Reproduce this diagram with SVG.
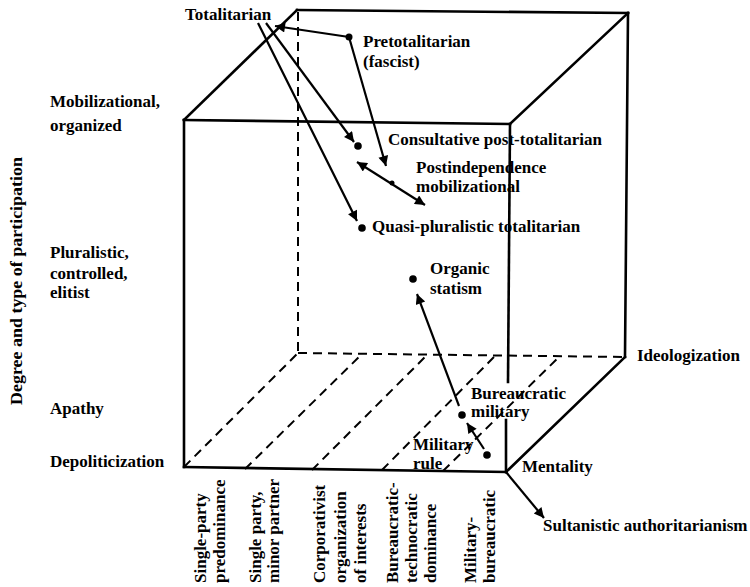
<svg xmlns="http://www.w3.org/2000/svg" width="750" height="587" viewBox="0 0 750 587">
<style>
  text { font-family: "Liberation Serif", "Times New Roman", serif; font-weight: bold; font-size: 17px; fill: #000; }
  .edge { stroke: #000; stroke-width: 2.6; fill: none; stroke-linecap: square; }
  .dash { stroke: #000; stroke-width: 2; fill: none; stroke-dasharray: 9 6; }
  .arr { stroke: #000; stroke-width: 2.2; fill: none; }
  .dot { fill: #000; }
</style>
<defs>
  <marker id="ah" viewBox="0 0 10 10" refX="10" refY="5" markerWidth="13" markerHeight="10" markerUnits="userSpaceOnUse" orient="auto-start-reverse">
    <path d="M0,0 L10,5 L0,10 Z" fill="#000"/>
  </marker>
</defs>
<rect width="750" height="587" fill="#fff"/>

<g id="cube">
  <line class="edge" x1="184" y1="120" x2="510" y2="124"/>
  <line class="edge" x1="184" y1="120" x2="184" y2="467"/>
  <line class="edge" x1="184" y1="467" x2="506" y2="472"/>
  <line class="edge" x1="510" y1="124" x2="508" y2="382"/>
  <line class="edge" x1="506" y1="420" x2="506" y2="472"/>
  <line class="edge" x1="297" y1="10" x2="628" y2="13"/>
  <line class="edge" x1="628" y1="13" x2="625" y2="357"/>
  <line class="edge" x1="184" y1="120" x2="297" y2="10"/>
  <line class="edge" x1="510" y1="124" x2="628" y2="13"/>
  <line class="edge" x1="506" y1="472" x2="625" y2="357"/>
  <line class="dash" x1="298" y1="12" x2="298" y2="353"/>
  <line class="dash" x1="298" y1="353" x2="625" y2="357"/>
  <line class="dash" x1="184" y1="467" x2="298" y2="353"/>
  <line class="dash" x1="245" y1="469" x2="362" y2="354"/>
  <line class="dash" x1="312" y1="470" x2="427" y2="355"/>
  <line class="dash" x1="382" y1="470" x2="495" y2="356"/>
  <line class="dash" x1="443" y1="471" x2="560" y2="356"/>
</g>

<g id="axis-labels">
  <text transform="translate(22,405) rotate(-90)" font-size="18" textLength="248" lengthAdjust="spacingAndGlyphs">Degree and type of participation</text>
  <text x="50" y="107">Mobilizational,</text>
  <text x="50" y="131">organized</text>
  <text x="50" y="258">Pluralistic,</text>
  <text x="50" y="279">controlled,</text>
  <text x="50" y="298">elitist</text>
  <text x="50" y="414">Apathy</text>
  <text x="50" y="467">Depoliticization</text>
  <text x="637" y="361">Ideologization</text>
  <text x="522" y="472">Mentality</text>
  <text transform="translate(206,583) rotate(-90)">Single-party</text>
  <text transform="translate(225,583) rotate(-90)">predominance</text>
  <text transform="translate(261,583) rotate(-90)">Single party,</text>
  <text transform="translate(279,583) rotate(-90)">minor partner</text>
  <text transform="translate(325,583) rotate(-90)">Corporativist</text>
  <text transform="translate(346,583) rotate(-90)">organization</text>
  <text transform="translate(366,583) rotate(-90)">of interests</text>
  <text transform="translate(398,583) rotate(-90)">Bureaucratic-</text>
  <text transform="translate(417,583) rotate(-90)">technocratic</text>
  <text transform="translate(436,583) rotate(-90)">dominance</text>
  <text transform="translate(476,583) rotate(-90)">Military-</text>
  <text transform="translate(495,583) rotate(-90)">bureaucratic</text>
</g>

<g id="node-totalitarian"><text x="185" y="20">Totalitarian</text></g>
<g id="node-pretotalitarian">
  <circle class="dot" cx="349" cy="37" r="3.5"/>
  <text x="363" y="47">Pretotalitarian</text>
  <text x="363" y="67">(fascist)</text>
</g>
<g id="node-consultative">
  <circle class="dot" cx="358" cy="146" r="3.8"/>
  <text x="388" y="145">Consultative post-totalitarian</text>
</g>
<g id="node-postindependence">
  <circle class="dot" cx="392" cy="183" r="2.5"/>
  <text x="416" y="173">Postindependence</text>
  <text x="416" y="192">mobilizational</text>
</g>
<g id="node-quasi">
  <circle class="dot" cx="362" cy="228" r="3.8"/>
  <text x="372" y="232">Quasi-pluralistic totalitarian</text>
</g>
<g id="node-organic">
  <circle class="dot" cx="413" cy="279" r="3.8"/>
  <text x="430" y="274">Organic</text>
  <text x="430" y="294">statism</text>
</g>
<g id="node-bureaucratic-military">
  <circle class="dot" cx="462" cy="415" r="3.8"/>
  <text x="471" y="399">Bureaucratic</text>
  <text x="471" y="417">military</text>
</g>
<g id="node-military-rule">
  <circle class="dot" cx="487" cy="455" r="3.8"/>
  <text x="413" y="450" font-size="16">Military</text>
  <text x="413" y="469" font-size="16">rule</text>
</g>
<g id="node-sultanistic"><text x="543" y="531">Sultanistic authoritarianism</text></g>

<g id="connectors">
  <line class="arr" x1="349" y1="37" x2="275" y2="26" marker-end="url(#ah)"/>
  <line class="arr" x1="266" y1="23" x2="354" y2="142" marker-end="url(#ah)"/>
  <line class="arr" x1="258" y1="23" x2="357" y2="221" marker-end="url(#ah)"/>
  <line class="arr" x1="349" y1="37" x2="386" y2="166" marker-end="url(#ah)"/>
  <line class="arr" x1="357" y1="162" x2="425" y2="205" marker-start="url(#ah)" marker-end="url(#ah)"/>
  <line class="arr" x1="459" y1="406" x2="417" y2="294" marker-end="url(#ah)"/>
  <line class="arr" x1="484" y1="449" x2="467" y2="423" marker-end="url(#ah)"/>
  <line class="arr" x1="506" y1="472" x2="544" y2="518" marker-end="url(#ah)"/>
</g>
</svg>
